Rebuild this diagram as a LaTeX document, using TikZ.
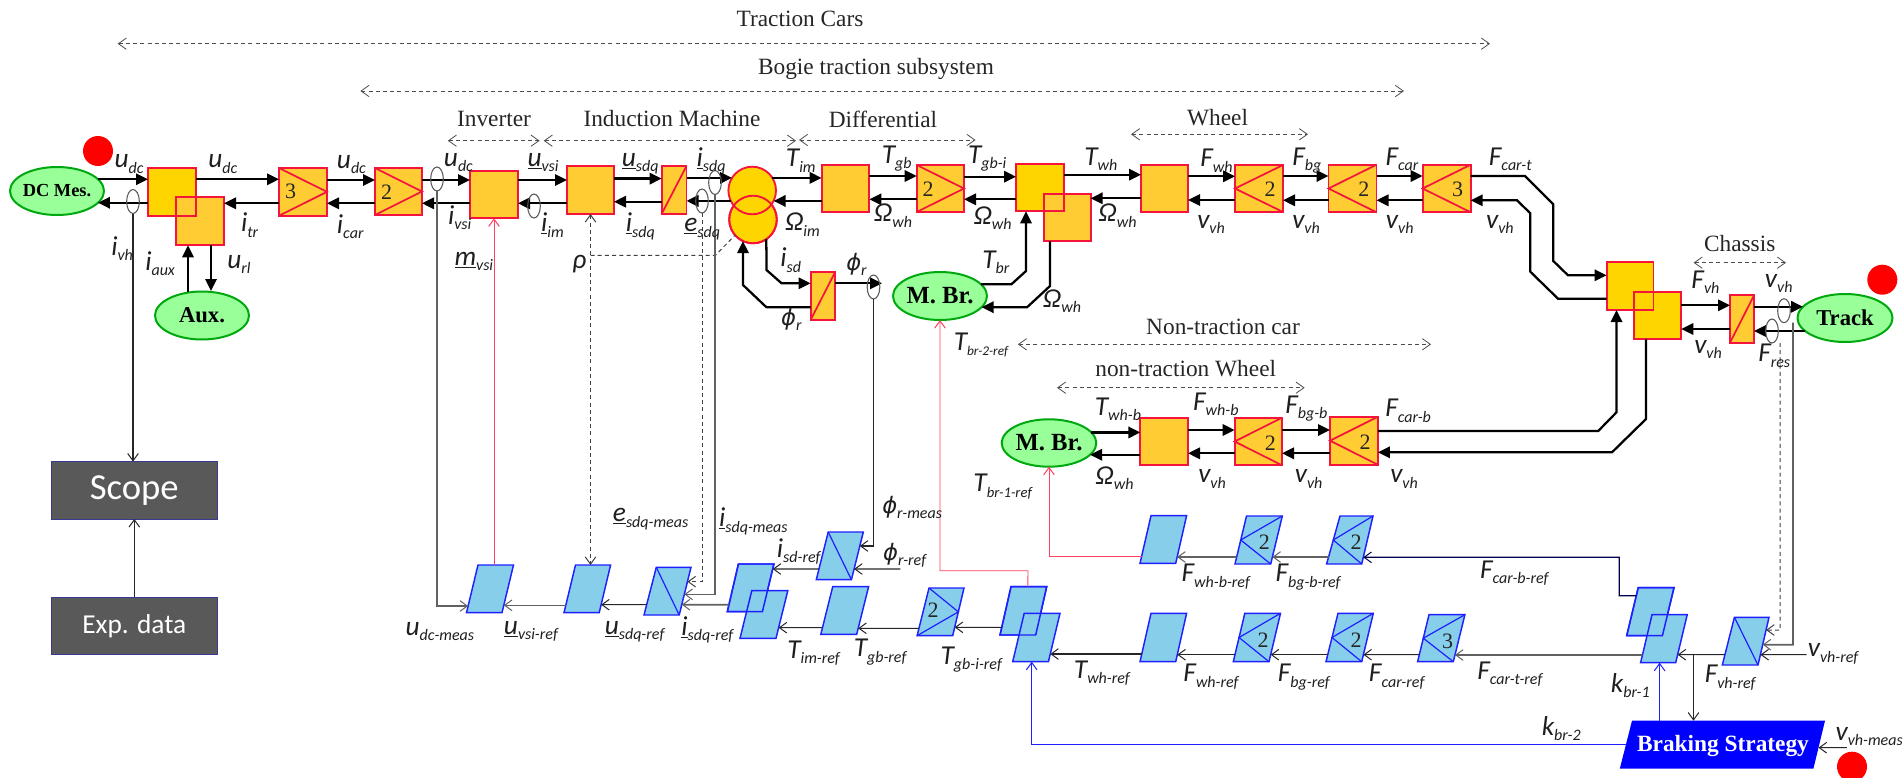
\documentclass[tikz,border=0pt]{standalone}
\usepackage{fontspec}
\setmainfont{Liberation Serif}
\newfontfamily\lblfont{Carlito}
\newfontfamily\phifont{DejaVu Sans}
\usetikzlibrary{arrows.meta,calc,shapes.geometric}
\definecolor{rimred}{HTML}{F5143C}
\definecolor{goldA}{HTML}{FFD500}
\definecolor{goldB}{HTML}{FFCC33}
\definecolor{eggreen}{HTML}{99FF99}
\definecolor{egrim}{HTML}{00A810}
\definecolor{skyb}{HTML}{87CEEB}
\definecolor{blueline}{HTML}{1F1FFF}
\definecolor{darkbox}{HTML}{595959}
\definecolor{sigred}{HTML}{FF4060}
\tikzset{
  fw/.style={line width=1.7pt,black,line join=miter,-{Triangle[length=9pt,width=8.5pt]}},
  rimbox/.style={rectangle,draw=rimred,line width=1.4pt,inner sep=0,outer sep=0},
  boxA/.style={rimbox,fill=goldA},
  boxB/.style={rimbox,fill=goldB},
  diag/.style={draw=rimred,line width=1.3pt},
  egg/.style={ellipse,draw=egrim,fill=eggreen,line width=1.5pt,inner xsep=-12pt,inner ysep=-4pt,outer sep=0,font=\bfseries},
  ring/.style={ellipse,draw=black!65,line width=.8pt,inner sep=0,outer sep=0,minimum width=9.5pt,minimum height=18pt},
  parbox/.style={draw=blueline,fill=skyb,line width=1.1pt,line join=miter},
  pdiag/.style={draw=blueline,line width=.9pt},
  barb/.style={-{Straight Barb[length=5.5pt,width=8pt,line width=.75pt]}},
  sigk/.style={barb,line width=.8pt,draw=black!85},
  siggray/.style={barb,line width=1.2pt,draw=black!62},
  sigbg/.style={barb,line width=.9pt,draw=black!70!blue},
  sigr/.style={barb,line width=.65pt,draw=sigred},
  sigb/.style={barb,line width=.85pt,draw=blueline},
  sigd/.style={barb,line width=.75pt,draw=black!75,dash pattern=on 3pt off 2.4pt},
  dimar/.style={{Straight Barb[length=6pt,width=8.5pt,line width=.6pt]}-{Straight Barb[length=6pt,width=8.5pt,line width=.6pt]},line width=.7pt,draw=black!70,dash pattern=on 3pt off 2.4pt},
  titl/.style={font=\fontsize{17.5}{18}\selectfont,text=black!85,inner sep=0},
  lab/.style={anchor=base west,inner sep=0,text=black!88},
  num/.style={font=\fontsize{16.5}{17}\selectfont,inner sep=0,text=black!85},
  darkb/.style={rectangle,fill=darkbox,draw=blue!35!darkbox,line width=.6pt,inner sep=0,outer sep=0,text=white,font=\lblfont},
  dotred/.style={circle,fill=red,inner sep=0,minimum size=22.5pt},
}
\newcounter{lbn}
\newcommand\SL[5][12]{\stepcounter{lbn}\node[lab] (lb\thelbn) at (#2,#3) {\lblfont\itshape\fontsize{20.5}{21}\selectfont #4\raisebox{-4.2pt}{\fontsize{#1}{#1}\selectfont #5}};}
\newcommand\phis{{\phifont\itshape\fontsize{17}{17}\selectfont ϕ}}
\newcommand\GB[6]{\node[#6,minimum width={(#4-#2)*0.75pt},minimum height={(#5-#3)*0.75pt}] (#1) at ({(#2+#4)/2},{(#3+#5)/2}) {};}
\newcommand\egg[7]{\node[egg,minimum width=#4*.75pt,minimum height=#5*.75pt] (#1) at (#2,#3) {\fontsize{#6}{#6}\selectfont #7};}
\newcommand\outl[1]{\draw[rimred,line width=1.4pt] (#1.north west) rectangle (#1.south east);}
\newcommand\conv[2]{\draw[diag] (#1.north west) -- (#1.east) -- (#1.south west);}
\newcommand\cinv[2]{\draw[diag] (#1.north east) -- (#1.west) -- (#1.south east);}
\newcommand\cslash[1]{\draw[diag] (#1.south west) -- (#1.north east);}
\newcommand\hconn[4]{\draw[#1] (#2 |- 0,#4) -- (#3 |- 0,#4);}
% parallelogram: name, x bottom-left, x top-left, x top-right, x bottom-right, y top, y bottom
\newcommand\mypar[7]{%
  \coordinate (#1-bl) at (#2,#7);\coordinate (#1-tl) at (#3,#6);
  \coordinate (#1-tr) at (#4,#6);\coordinate (#1-br) at (#5,#7);
  \expandafter\def\csname #1ytop\endcsname{#6}\expandafter\def\csname #1ybot\endcsname{#7}%
  \draw[parbox] (#1-bl) -- (#1-tl) -- (#1-tr) -- (#1-br) -- cycle;}
\newcommand\parol[1]{\draw[draw=blueline,line width=1.1pt] (#1-bl) -- (#1-tl) -- (#1-tr) -- (#1-br) -- cycle;}
\newcommand\edgeL[3]{\pgfmathsetmacro\ffr{(\csname #1ybot\endcsname-#2)/(\csname #1ybot\endcsname-\csname #1ytop\endcsname)}\coordinate (#3) at ($(#1-bl)!\ffr!(#1-tl)$);}
\newcommand\edgeR[3]{\pgfmathsetmacro\ffr{(\csname #1ybot\endcsname-#2)/(\csname #1ybot\endcsname-\csname #1ytop\endcsname)}\coordinate (#3) at ($(#1-br)!\ffr!(#1-tr)$);}
\newcommand\pconn[4]{\edgeL{#2}{#4}{tmpa}\edgeR{#3}{#4}{tmpb}\draw[#1] (tmpa) -- (tmpb);}
\newcommand\dimarr[5]{\coordinate (#1-l) at (#2,#4);\coordinate (#1-r) at (#3,#4);\draw[dimar] (#1-l) -- (#1-r);}
\begin{document}
\begin{tikzpicture}[x=0.75pt,y=-0.75pt]
\useasboundingbox (0,0) rectangle (1903,778);
\clip (0,0) rectangle (1903,778);

% --- dimension arrows and titles
\dimarr{dTC}{117.7}{1490}{43.7}{} \node[titl] (tTC) at (800,19) {Traction Cars};
\dimarr{dBG}{360.4}{1404}{91}{} \node[titl] (tBG) at (876,69) {Bogie traction subsystem};
\dimarr{dIN}{447.8}{539.6}{140.7}{} \node[titl] (tIN) at (494,119) {Inverter};
\dimarr{dIM}{543.7}{796}{140.7}{} \node[titl] (tIM) at (672,119) {Induction Machine};
\dimarr{dDF}{799}{975.5}{140}{} \node[titl] (tDF) at (883,119) {Differential};
\dimarr{dWH}{1131}{1308}{134.3}{} \node[titl] (tWH) at (1217.6,118) {Wheel};
\dimarr{dCH}{1693.6}{1786}{262.7}{} \node[titl] (tCH) at (1739.7,243.7) {Chassis};
\dimarr{dNC}{1017.9}{1431}{344.3}{} \node[titl] (tNC) at (1223,326.7) {Non-traction car};
\dimarr{dNW}{1057}{1304.6}{387.7}{} \node[titl] (tNW) at (1185.7,368.3) {non-traction Wheel};

% --- sources
\egg{DC}{57}{191}{94}{48}{13.8}{DC Mes.}
\egg{AX}{202}{315.5}{94}{48}{17}{Aux.}
\egg{MB}{940}{296}{94}{48}{18.5}{M. Br.}
\egg{NB}{1049}{443}{94.6}{47.4}{18.5}{M. Br.}
\egg{TR}{1845}{318}{95}{48}{17}{Track}
\node[dotred] (dot1) at (98,151) {};
\node[dotred] (dot2) at (1882.3,279.7) {};
\node[dotred] (dot3) at (1852,766.7) {};

% --- gold power blocks
\GB{A1}{148}{167.7}{196}{215.7}{boxA}
\GB{A2}{176}{197.3}{224}{245.3}{boxB}\outl{A1}
\GB{B1}{279}{168}{327}{215.7}{boxB}\conv{B1}{}
\node[num] (B1n) at (290.6,191.7) {3};
\GB{B2}{375}{168}{422}{215}{boxB}\conv{B2}{}
\node[num] (B2n) at (386.5,192.7) {2};
\GB{INV}{470}{170.7}{518}{218.3}{boxB}
\GB{IM}{567}{166}{614}{214}{boxB}
\GB{CV1}{661.6}{166}{686.5}{214}{boxB}\cslash{CV1}
\node[ellipse,draw=rimred,fill=goldA,line width=1.4pt,inner sep=0,outer sep=0,minimum width=35.7pt,minimum height=35.7pt] (Mb) at (753,219.5) {};
\node[ellipse,draw=rimred,fill=goldA,line width=1.4pt,inner sep=0,outer sep=0,minimum width=35.7pt,minimum height=35.7pt] (Mt) at (752.2,190.5) {};
\draw[rimred,line width=1.4pt] (Mb.center) ellipse (23.8 and 23.8);
\GB{D1}{821.6}{165}{869.4}{212}{boxB}
\GB{D2}{916.7}{165}{964}{212}{boxB}\conv{D2}{}
\node[num] (D2n) at (928,189) {2};
\GB{W1}{1016}{164.3}{1063.7}{211.3}{boxA}
\GB{W2}{1043.7}{194}{1090.6}{241.3}{boxB}\outl{W1}
\GB{W3}{1141}{165}{1188}{212}{boxB}
\GB{W4}{1235}{165}{1283}{212}{boxB}\cinv{W4}{}
\node[num] (W4n) at (1270,189) {2};
\GB{W5}{1328.5}{164.7}{1376.5}{212.3}{boxB}\cinv{W5}{}
\node[num] (W5n) at (1363.8,189) {2};
\GB{W6}{1422.6}{164.7}{1470.7}{212.3}{boxB}\cinv{W6}{}
\node[num] (W6n) at (1457.6,189) {3};
\GB{CV2}{810.6}{272.3}{835}{320}{boxB}\cslash{CV2}
\GB{C1}{1606.6}{262.3}{1653.5}{310}{boxA}
\GB{C2}{1633.6}{292}{1681.3}{339.3}{boxA}\outl{C1}
\GB{CV3}{1730}{295.3}{1754}{342.7}{boxB}\cslash{CV3}
\GB{N1}{1140.4}{417.7}{1188}{465.3}{boxB}
\GB{N2}{1234.6}{417.7}{1282}{465.3}{boxB}\cinv{N2}{}
\node[num] (N2n) at (1270.4,443.3) {2};
\GB{N3}{1330}{416.7}{1377.9}{464.7}{boxB}\cinv{N3}{}
\node[num] (N3n) at (1365,442.7) {2};

% --- dark boxes
\node[darkb,minimum width=125pt,minimum height=43pt,font=\lblfont\fontsize{27.5}{28}\selectfont] (SC) at (134.3,490.3) {Scope};
\node[darkb,minimum width=125pt,minimum height=43pt,font=\lblfont\fontsize{20.5}{21}\selectfont] (EX) at (134.3,625.8) {Exp. data};

% --- power connectors, upper chain
\draw[fw] (DC.16) -- (A1.west |- DC.16);
\draw[fw] (A1.west |- DC.-16) -- (DC.-16);
\hconn{fw}{A1.east}{B1.west}{179.3}
\hconn{fw}{B1.west}{A2.east}{203.3}
\hconn{fw}{B1.east}{B2.west}{180}
\hconn{fw}{B2.west}{B1.east}{203.3}
\hconn{fw}{B2.east}{INV.west}{180}
\hconn{fw}{INV.west}{B2.east}{203.3}
\hconn{fw}{INV.east}{IM.west}{180}
\hconn{fw}{IM.west}{INV.east}{203.3}
\hconn{fw}{IM.east}{CV1.west}{178.6}
\hconn{fw}{CV1.west}{IM.east}{201.7}
\draw[fw] (CV1.east |- Mt.148) -- (Mt.148);
\draw[fw] (Mt.206) -- (CV1.east |- Mt.206);
\draw[fw] (Mt.32) -- (D1.west |- Mt.32);
\draw[fw] (D1.west |- Mt.-26) -- (Mt.-26);
\hconn{fw}{D1.east}{D2.west}{176}
\hconn{fw}{D2.west}{D1.east}{199.3}
\hconn{fw}{D2.east}{W1.west}{176.7}
\hconn{fw}{W1.west}{D2.east}{199.3}
\hconn{fw}{W1.east}{W3.west}{174.7}
\hconn{fw}{W3.west}{W2.east}{198.3}
\hconn{fw}{W3.east}{W4.west}{176.3}
\hconn{fw}{W4.west}{W3.east}{200}
\hconn{fw}{W4.east}{W5.west}{176}
\hconn{fw}{W5.west}{W4.east}{200.3}
\hconn{fw}{W5.east}{W6.west}{176}
\hconn{fw}{W6.west}{W5.east}{200.3}
\draw[fw] (W6.east |- 0,176) -- (1525,176) -- (1553.3,204.3) -- (1553.3,261) -- (1568,275.3) -- (C1.west |- 0,275.3);
\draw[fw] (C1.west |- 0,298.7) -- (1558,298.7) -- (1530.3,271.7) -- (1530.3,213.3) -- (1517,200.3) -- (W6.east |- 0,200.3);
\hconn{fw}{C2.east}{CV3.west}{305.3}
\hconn{fw}{CV3.west}{C2.east}{329}
\draw[fw] (CV3.east |- TR.165) -- (TR.165);
\draw[fw] (TR.198) -- (CV3.east |- TR.198);
% auxiliaries
\draw[fw] (188,0 |- AX.north) -- (188,0 |- A2.south);
\draw[fw] (211,0 |- A2.south) -- (211,291);
% flux branch
\draw[fw] (Mb.-56) -- (766.5,270) -- (781.6,283.3) -- (CV2.west |- 0,283.3);
\draw[fw] (CV2.west |- 0,307.3) -- (766.5,307.3) -- (743,285) -- (Mb.-115);
\coordinate (phiEnd) at (882,283.3);
\draw[fw] (CV2.east |- phiEnd) -- (phiEnd);
% mechanical brake
\draw[fw] (MB.16) -- (1011.4,284.3) -- (1026,271) -- (1026,0 |- W1.south);
\draw[fw] (1050,0 |- W2.south) -- (1050,286) -- (1027,307.3) -- (MB.-15);
% non-traction chain
\draw[fw] (NB.14) -- (N1.west |- NB.14);
\draw[fw] (N1.west |- NB.-16) -- (NB.-16);
\hconn{fw}{N1.east}{N2.west}{430}
\hconn{fw}{N2.west}{N1.east}{453.3}
\hconn{fw}{N2.east}{N3.west}{430}
\hconn{fw}{N3.west}{N2.east}{453.3}
\draw[fw] (N3.east |- 0,431) -- (1598.2,431) -- (1616.5,412.3) -- (1616.5,0 |- C1.south);
\draw[fw] (1646,0 |- C2.south) -- (1646,419) -- (1612,452.3) -- (N3.east |- 0,452.3);

% --- measurement rings
\node[ring] (Riv) at (133,201.5) {};
\node[ring] (Rud) at (437,179) {};
\node[ring] (Rim) at (534,206) {};
\node[ring] (Ris) at (715,182.5) {};
\node[ring] (Res) at (702,201) {};
\node[ring] (Rph) at (873.5,287) {};
\node[ring] (Rv) at (1784,310.7) {};
\node[ring] (Rf) at (1772,331) {};

% --- control chain parallelograms
\mypar{Pa}{466.5}{478}{513.5}{502}{565}{612.7}
\mypar{Pb}{564}{575.5}{610.6}{599.2}{565}{612.7}
\mypar{Pc}{644}{656.3}{691}{679.2}{567.3}{615}
\draw[pdiag] (Pc-tl) -- (Pc-br);
\mypar{Pd}{727.3}{738.4}{773.9}{762.4}{564}{611.7}
\mypar{Pe}{740}{751.8}{787.8}{776}{590.7}{638.3}\parol{Pd}
\mypar{Pf}{816.3}{828.2}{863.3}{851.4}{532}{579.7}
\draw[pdiag] (Pf-tl) -- (Pf-br);
\mypar{Pg}{820.8}{832.7}{868.6}{856.7}{586.7}{634.3}
\mypar{Ph}{917.1}{929}{964}{952.7}{588}{635.7}
\draw[pdiag] (Ph-tl) -- ($(Ph-tr)!.5!(Ph-br)$) -- (Ph-bl);
\node[num] (Phn) at (933,610.7) {2};
\mypar{PA}{1000}{1011}{1046.7}{1035.7}{586.7}{635}
\mypar{PB}{1012.7}{1024.2}{1060}{1048.4}{613.3}{661.7}\parol{PA}
\mypar{PW1}{1140}{1151}{1186.6}{1175.7}{613.3}{661.7}
\mypar{PW2}{1233.3}{1244.8}{1280.5}{1269}{613.3}{661.7}
\draw[pdiag] (PW2-tr) -- ($(PW2-tl)!.5!(PW2-bl)$) -- (PW2-br);
\node[num] (PW2n) at (1263.2,640) {2};
\mypar{PW3}{1326}{1338}{1373.3}{1361.7}{613.3}{661.7}
\draw[pdiag] (PW3-tr) -- ($(PW3-tl)!.5!(PW3-bl)$) -- (PW3-br);
\node[num] (PW3n) at (1356,640) {2};
\mypar{PW4}{1417.6}{1429}{1464.9}{1453.3}{614.7}{661.7}
\draw[pdiag] (PW4-tr) -- ($(PW4-tl)!.5!(PW4-bl)$) -- (PW4-br);
\node[num] (PW4n) at (1447.6,641) {3};
\mypar{PN1}{1140}{1151}{1186.6}{1175.7}{515.7}{563.3}
\mypar{PN2}{1235}{1246.5}{1282.3}{1270.7}{516}{564}
\draw[pdiag] (PN2-tr) -- ($(PN2-tl)!.5!(PN2-bl)$) -- (PN2-br);
\node[num] (PN2n) at (1264.4,542.3) {2};
\mypar{PN3}{1326.6}{1340}{1373}{1361.7}{516}{564}
\draw[pdiag] (PN3-tr) -- ($(PN3-tl)!.5!(PN3-bl)$) -- (PN3-br);
\node[num] (PN3n) at (1356,542.3) {2};
\mypar{P1}{1626.7}{1638.2}{1674}{1662.4}{587.7}{635.7}
\mypar{P2}{1640.6}{1652}{1687.2}{1675.7}{614.7}{662.7}\parol{P1}
\mypar{P3}{1722.3}{1734.4}{1769}{1758}{617.3}{665}
\draw[pdiag] (P3-tl) -- (P3-br);
% braking strategy
\coordinate (BS-bl) at (1619.8,768.7);\coordinate (BS-tl) at (1632,720.7);
\coordinate (BS-tr) at (1825,720.7);\coordinate (BS-br) at (1813.4,768.7);
\def\BSytop{720.7}\def\BSybot{768.7}
\fill[blue!100] (BS-bl) -- (BS-tl) -- (BS-tr) -- (BS-br) -- cycle;
\node[text=white,font=\bfseries\fontsize{17.5}{18}\selectfont,inner sep=0] (BSt) at (1723,746) {Braking Strategy};

% --- control connectors
\pconn{siggray}{Pb}{Pa}{605.3}
\pconn{sigk}{Pc}{Pb}{604.7}
\pconn{siggray}{Pd}{Pc}{604.7}
\pconn{sigk}{Pf}{Pd}{569}
\pconn{sigk}{Pg}{Pe}{627.7}
\pconn{sigk}{Ph}{Pg}{628.3}
\pconn{sigk}{PA}{Ph}{627.3}
\pconn{sigk}{PW1}{PB}{654}
\pconn{sigk}{PW2}{PW1}{654.7}
\pconn{sigk}{PW3}{PW2}{654.7}
\pconn{sigk}{PW4}{PW3}{654.7}
\pconn{siggray}{P2}{PW4}{655}
\pconn{siggray}{PN2}{PN1}{557}
\pconn{siggray}{PN3}{PN2}{557}
\pconn{sigk}{P3}{P2}{654.7}
\edgeL{P1}{595.7}{P1-a}\edgeR{PN3}{557.3}{PN3-a}
\draw[sigbg] (P1-a) -- (1619.2,595.7) -- (1619.2,557.3) -- (PN3-a);
% measurements
\draw[sigk] (Riv.south) -- (Riv.south |- SC.north);
\draw[sigk] (EX.north) -- (SC.south);
\edgeL{Pa}{606}{Pa-a}
\draw[siggray] (Rud.south) -- (Rud.south |- Pa-a) -- (Pa-a);
\draw[sigr] (INV.south |- Pa-tl) -- (INV.south);
\draw[sigd,{Straight Barb[length=5.5pt,width=8pt,line width=.75pt]}-{Straight Barb[length=5.5pt,width=8pt,line width=.75pt]}] (IM.south) -- (IM.south |- Pb-tl);
\draw[line width=.75pt,draw=black!75,dash pattern=on 3pt off 2.4pt] (IM.south |- 0,255.3) -- (715.5,255.3) -- (Mb.-139);
\edgeR{Pc}{581.7}{Pc-e}
\draw[sigd] (Res.south) -- (Res.south |- Pc-e) -- (Pc-e);
\edgeR{Pc}{594.3}{Pc-i}
\draw[siggray] (Ris.south) -- (Ris.south |- Pc-i) -- (Pc-i);
\edgeR{Pf}{546}{Pf-m}
\draw[sigk] (Rph.south) -- (Rph.south |- Pf-m) -- (Pf-m);
\coordinate (phiRef) at (900.4,569);\edgeR{Pf}{569}{Pf-r}
\draw[sigk] (phiRef) -- (Pf-r);
\draw[sigr] ($(PA-tl)!.47!(PA-tr)$) -- (1028,570.7) -- (MB.south |- 0,570.7) -- (MB.south);
\edgeL{PN1}{556}{PN1-a}
\draw[sigr] (PN1-a) -- (NB.south |- PN1-a) -- (NB.south);
\coordinate (juncF) at (1693.5,654.7);
\draw[sigk] (juncF) -- (juncF |- BS-tl);
\draw[sigb] (1659.6,0 |- BS-tl) -- (1659.6,0 |- P2-bl);
\edgeL{BS}{744.7}{BS-k}
\draw[sigb] (BS-k) -- (1031.7,0 |- BS-k) -- (1031.7,0 |- PB-bl);
\coordinate (vhRef) at (1806.5,654.7);\edgeR{P3}{654.7}{P3-a}
\draw[sigk] (vhRef) -- (P3-a);
\coordinate (vhMeas) at (1846.8,747.7);\edgeR{BS}{747.7}{BS-m}
\draw[sigk] (vhMeas) -- (BS-m);
\edgeR{P3}{630}{P3-d}
\draw[sigd] (1780,0 |- Rf.south) -- (1780,630) -- (P3-d);
\edgeR{P3}{644.7}{P3-g}
\draw[siggray] (1793,0 |- Rv.south) -- (1793,644.7) -- (P3-g);

% --- labels, power side
\SL{114.3}{167.7}{u}{dc}
\SL{208}{167.7}{u}{dc}
\SL{336.7}{168.3}{u}{dc}
\SL{443.7}{166}{u}{dc}
\SL{527.3}{166}{\underline{u}}{vsi}
\SL{621.6}{166}{\underline{u}}{sdq}
\SL{696.3}{166}{\underline{i}}{sdq}
\SL{785.7}{166.7}{T}{im}
\SL{881.6}{163.3}{T}{gb}
\SL{967.8}{163.3}{T}{gb-i}
\SL{1084}{165}{T}{wh}
\SL{1200}{166.7}{F}{wh}
\SL{1292}{165}{F}{bg}
\SL{1385.3}{165}{F}{car}
\SL{1488.6}{165}{F}{car-t}
\SL{111}{255}{i}{vh}
\SL{145}{270}{i}{aux}
\SL{240.8}{231.7}{i}{tr}
\SL{336.7}{233.3}{i}{car}
\SL{447.8}{224}{i}{vsi}
\SL{540.8}{231.7}{\underline{i}}{im}
\SL{625.7}{231.7}{\underline{i}}{sdq}
\SL{227}{268.3}{u}{rl}
\SL{454.3}{265}{\underline{m}}{vsi}
\SL{572.2}{268.3}{ρ}{}
\SL{684}{231.7}{\underline{e}}{sdq}
\SL{785}{230.7}{Ω}{im}
\SL{873.9}{221.7}{Ω}{wh}
\SL{973.5}{224}{Ω}{wh}
\SL{1098.4}{221.7}{Ω}{wh}
\SL{1197}{228.3}{v}{vh}
\SL{1292}{228.3}{v}{vh}
\SL{1385.7}{228.3}{v}{vh}
\SL{1485.8}{228.3}{v}{vh}
\SL{780}{266.7}{i}{sd}
\SL{846}{270}{\phis}{r}
\SL{780.8}{325}{\phis}{r}
\SL{982}{268.3}{T}{br}
\SL{1042.9}{307.3}{Ω}{wh}
\SL[10]{953.5}{350}{T}{br-2-ref}
\SL{1094.6}{415}{T}{wh-b}
\SL{1192.9}{410}{F}{wh-b}
\SL{1285}{413.3}{F}{bg-b}
\SL{1385}{416.7}{F}{car-b}
\SL{1095.4}{484.3}{Ω}{wh}
\SL{1198}{482.7}{v}{vh}
\SL{1294.6}{482.7}{v}{vh}
\SL{1390}{482.7}{v}{vh}
\SL[11]{973.2}{491.7}{T}{br-1-ref}
\SL{1691.2}{288.3}{F}{vh}
\SL{1764.7}{287.3}{v}{vh}
\SL{1694}{353.3}{v}{vh}
\SL{1758}{361.7}{F}{res}
% --- labels, control side
\SL{612.7}{521.7}{\underline{e}}{sdq-meas}
\SL{718.8}{526.5}{\underline{i}}{sdq-meas}
\SL{882}{513.3}{\phis}{r-meas}
\SL{776.7}{557}{i}{sd-ref}
\SL{882.9}{560}{\phis}{r-ref}
\SL{405.3}{635}{u}{dc-meas}
\SL{503.7}{634.3}{\underline{u}}{vsi-ref}
\SL{604.5}{634.3}{\underline{u}}{sdq-ref}
\SL{681.2}{635}{\underline{i}}{sdq-ref}
\SL{787}{658.3}{T}{im-ref}
\SL{853.5}{656.7}{T}{gb-ref}
\SL{940.4}{664}{T}{gb-i-ref}
\SL{1181.4}{581.7}{F}{wh-b-ref}
\SL{1275.3}{581.7}{F}{bg-b-ref}
\SL{1479.8}{578.3}{F}{car-b-ref}
\SL{1073.7}{678.3}{T}{wh-ref}
\SL{1183.2}{681.7}{F}{wh-ref}
\SL{1277.6}{681.7}{F}{bg-ref}
\SL{1368.7}{681.7}{F}{car-ref}
\SL{1477}{679}{F}{car-t-ref}
\SL{1704.5}{682.7}{F}{vh-ref}
\SL{1610.6}{692.3}{k}{br-1}
\SL{1541.5}{735}{k}{br-2}
\SL{1807.6}{656.7}{v}{vh-ref}
\SL{1835.3}{740}{v}{vh-meas}
\end{tikzpicture}
\end{document}
